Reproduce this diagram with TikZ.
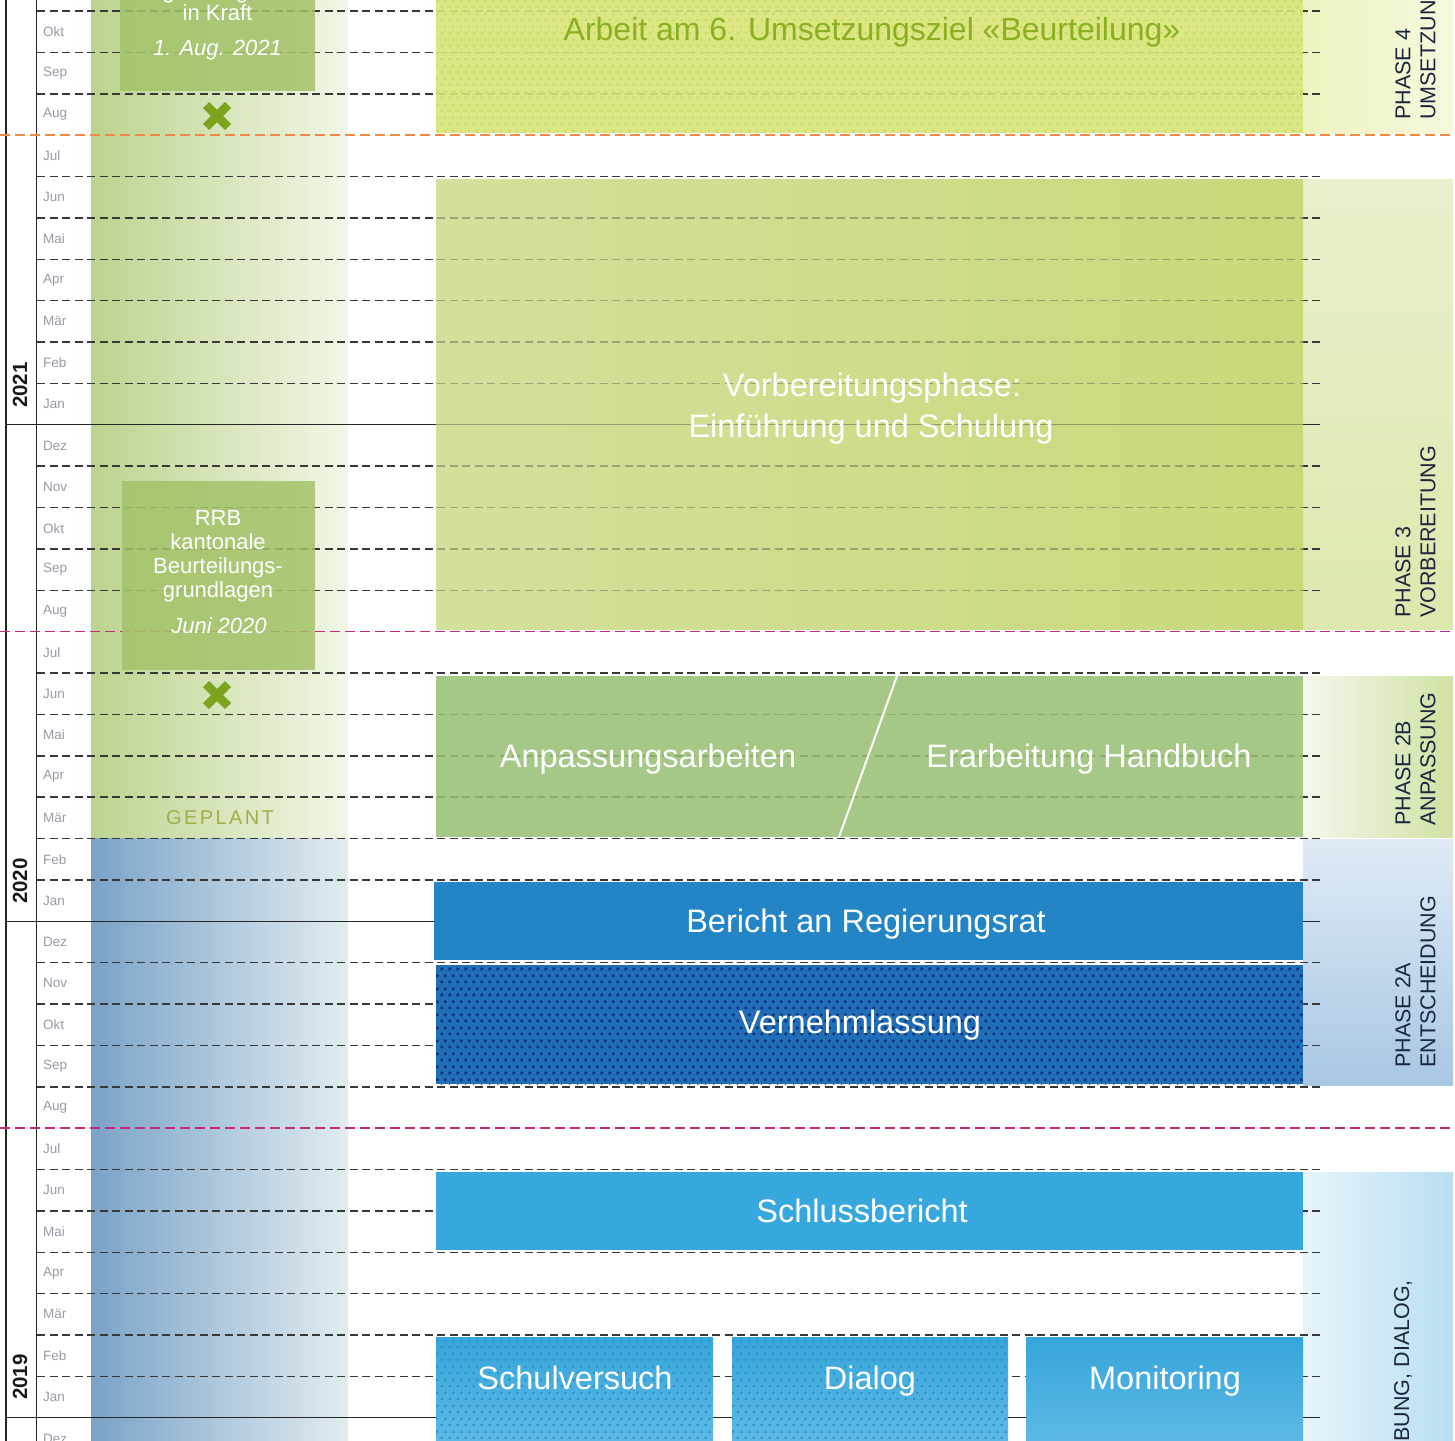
\documentclass[tikz,border=0pt]{standalone}
\usepackage{fontspec}
\setmainfont{Liberation Sans}
\usetikzlibrary{patterns}

\pgfdeclarepatternformonly{diadots}{\pgfpointorigin}{\pgfpoint{8pt}{13pt}}{\pgfpoint{8pt}{13pt}}{%
  \pgfpathcircle{\pgfpoint{2pt}{3.25pt}}{1.4pt}%
  \pgfpathcircle{\pgfpoint{6pt}{9.75pt}}{1.4pt}%
  \pgfusepath{fill}}
\pgfdeclarepatternformonly{bigdots}{\pgfpointorigin}{\pgfpoint{8pt}{13pt}}{\pgfpoint{8pt}{13pt}}{%
  \pgfpathcircle{\pgfpoint{2pt}{3.25pt}}{1.9pt}%
  \pgfpathcircle{\pgfpoint{6pt}{9.75pt}}{1.9pt}%
  \pgfusepath{fill}}

\definecolor{bgL}{HTML}{BCD38E}
\definecolor{bgM}{HTML}{D8E5B6}
\definecolor{bgR}{HTML}{F1F7E7}
\definecolor{bbL}{HTML}{7AA3C8}
\definecolor{bbM}{HTML}{A9C6D8}
\definecolor{bbR}{HTML}{E2ECF0}
\definecolor{smallbox}{HTML}{A3C269}
\definecolor{xgreen}{HTML}{7BA31E}
\definecolor{geplant}{HTML}{A0AE4C}
\definecolor{arbfill}{HTML}{D9E476}
\definecolor{arbdot}{HTML}{C4D456}
\definecolor{arbtext}{HTML}{8AB022}
\definecolor{vorL}{HTML}{D3E09C}
\definecolor{vorR}{HTML}{C7D979}
\definecolor{anpfill}{HTML}{97C074}
\definecolor{bericht}{HTML}{2385C5}
\definecolor{vernfill}{HTML}{1F6EB7}
\definecolor{verndot}{HTML}{0F3078}
\definecolor{schluss}{HTML}{37A8DD}
\definecolor{lowtop}{HTML}{37A5DA}
\definecolor{lowbot}{HTML}{5DB9E5}
\definecolor{lowdot}{HTML}{2A8ECE}
\definecolor{monthgray}{HTML}{9A98A6}
\definecolor{phasetext}{HTML}{1C2640}
\definecolor{orangeline}{HTML}{EE8A46}
\definecolor{magline}{HTML}{C8287C}
\definecolor{pIVa}{HTML}{EDF3C0}
\definecolor{pIVb}{HTML}{F5F9DC}
\definecolor{pIIIa}{HTML}{E8F0CC}
\definecolor{pIIIb}{HTML}{DCE8AE}
\definecolor{pIIBa}{HTML}{F4F8EC}
\definecolor{pIIBb}{HTML}{CFE2A3}
\definecolor{pIIAa}{HTML}{DFEAF5}
\definecolor{pIIAb}{HTML}{A8C7E3}
\definecolor{pIa}{HTML}{E6F4FA}
\definecolor{pIb}{HTML}{B9DEF1}

\tikzset{
  monthline/.style={draw=black!78, line width=1.5pt, dash pattern=on 8pt off 4.5pt},
  yearline/.style={draw=black!85, line width=1.4pt},
  sepline/.style={line width=1.6pt, dash pattern=on 10pt off 5pt},
  monthlbl/.style={anchor=west, inner sep=0, text=monthgray, font=\fontsize{13.5}{16}\selectfont},
  yearlbl/.style={rotate=90, inner sep=0, text=black!90, font=\fontsize{20.5}{24}\selectfont\bfseries},
  boxtxt/.style={inner sep=0, text=white, text height=23.3pt, text depth=0pt, font=\fontsize{32.5}{40}\selectfont},
  smalltxt/.style={inner sep=0, text=white, text height=15.7pt, text depth=0pt, font=\fontsize{22}{24}\selectfont},
  smallit/.style={smalltxt, font=\fontsize{22}{24}\selectfont\itshape},
  phaselbl/.style={rotate=90, anchor=west, inner sep=0, text=phasetext, font=\fontsize{21.5}{25}\selectfont},
  crossmark/.style={draw=xgreen, line width=8.5pt},
}

\begin{document}
\begin{tikzpicture}[x=1pt,y=-1pt]
\useasboundingbox (0,0) rectangle (1455,1440);
\clip (0,0) rectangle (1455,1440);
\fill[white] (0,0) rectangle (1455,1440);

% left "geplant" band
\fill[left color=bgL, middle color=bgM, right color=bgR] (91,-5) rectangle (348,838.5);
\fill[left color=bbL, middle color=bbM, right color=bbR] (91,838.5) rectangle (348,1445);

% right phase panels
\fill[left color=pIVa, right color=pIVb] (1303,-5) rectangle (1453,133);
\fill[top color=pIIIa, bottom color=pIIIb] (1303,179) rectangle (1453,629);
\fill[left color=pIIBa, right color=pIIBb] (1303,676) rectangle (1453,837);
\fill[top color=pIIAa, bottom color=pIIAb] (1303,839) rectangle (1453,1085);
\fill[left color=pIa, right color=pIb] (1303,1172) rectangle (1453,1445);

% vertical year-column lines
\draw[yearline] (6,-5) -- (6,1445);
\draw[yearline] (36.5,-5) -- (36.5,1445);

% month lines
\foreach \i in {0,1,2,4,5,6,7,8,9,11,12,13,14,16,17,18,19,20,21,23,24,25,26,28,29,30,31,32,33}
  \draw[monthline] (37,{11+41.375*\i}) -- (1320,{11+41.375*\i});
% year lines
\foreach \i in {10,22,34}
  \draw[yearline] (6,{11+41.375*\i}) -- (1320,{11+41.375*\i});
% phase separators
\draw[sepline, draw=orangeline] (0,135.1) -- (1455,135.1);
\draw[sepline, draw=magline] (0,631.6) -- (1455,631.6);
\draw[sepline, draw=magline] (0,1128.1) -- (1455,1128.1);

% month labels
\foreach \m [count=\i from 0] in {Okt,Sep,Aug,Jul,Jun,Mai,Apr,Mär,Feb,Jan,Dez,Nov,Okt,Sep,Aug,Jul,Jun,Mai,Apr,Mär,Feb,Jan,Dez,Nov,Okt,Sep,Aug,Jul,Jun,Mai,Apr,Mär,Feb,Jan,Dez}
  \node[monthlbl] (m\i) at (43,{31.7+41.375*\i}) {\m};

% year labels
\node[yearlbl] (y2021) at (20,385) {2021};
\node[yearlbl] (y2020) at (20,881) {2020};
\node[yearlbl] (y2019) at (20,1377) {2019};

% small boxes in band
\fill[smallbox, fill opacity=.85] (120,-5) rectangle (315,91);
\fill[smallbox, fill opacity=.85] (121.5,481) rectangle (315,669.5);
\node[smalltxt] (kraftA) at (217.5,-9.5) {grundlagen};
\node[smalltxt] (kraftB) at (217.5,13) {in Kraft};
\node[smallit]  (kraftC) at (217.5,48) {1. Aug. 2021};
\node[smalltxt] (rrbA) at (218,518) {RRB};
\node[smalltxt] (rrbB) at (218,542) {kantonale};
\node[smalltxt] (rrbC) at (218,566) {Beurteilungs-};
\node[smalltxt] (rrbD) at (218,590) {grundlagen};
\node[smallit]  (rrbE) at (219,626) {Juni 2020};

% crosses
\draw[crossmark] (206,105) -- (228,127) (206,127) -- (228,105);
\draw[crossmark] (206,684) -- (228,706) (206,706) -- (228,684);

\node[inner sep=0, text=geplant, font=\fontsize{20}{24}\selectfont\addfontfeature{LetterSpace=12}] (geplant) at (220,818) {GEPLANT};

% main boxes
\fill[arbfill, fill opacity=.9] (436,-5) rectangle (1303,133);
\fill[pattern=diadots, pattern color=arbdot, fill opacity=.8] (436,-5) rectangle (1303,133);
\node[boxtxt, text=arbtext, font=\fontsize{32}{40}\selectfont] (arbeit) at (872,29) {Arbeit am 6. Umsetzungsziel «Beurteilung»};

\fill[left color=vorL, right color=vorR] (436,179) rectangle (1303,629);
\begin{scope}[opacity=.35]
  \clip (436,179) rectangle (1303,629);
  \foreach \i in {5,6,7,8,9,11,12,13,14}
    \draw[monthline] (37,{11+41.375*\i}) -- (1320,{11+41.375*\i});
  \draw[yearline] (6,{11+41.375*10}) -- (1320,{11+41.375*10});
\end{scope}
\node[boxtxt] (vorA) at (872,385) {Vorbereitungsphase:};
\node[boxtxt] (vorB) at (871,426) {Einführung und Schulung};

\fill[anpfill, fill opacity=.86] (436,676) rectangle (1303,837);
\draw[white, line width=2pt] (897,676) -- (839,837);
\node[boxtxt] (anpA) at (648,756) {Anpassungsarbeiten};
\node[boxtxt] (anpB) at (1089,756) {Erarbeitung Handbuch};

\fill[bericht] (434,882) rectangle (1303,960);
\node[boxtxt] (bericht) at (866,921) {Bericht an Regierungsrat};

\fill[vernfill] (436,965) rectangle (1303,1084);
\fill[pattern=bigdots, pattern color=verndot] (436,965) rectangle (1303,1084);
\node[boxtxt] (vern) at (860,1022) {Vernehmlassung};

\fill[schluss] (436,1172) rectangle (1303,1250);
\node[boxtxt] (schluss) at (862,1211) {Schlussbericht};

\fill[top color=lowtop, bottom color=lowbot] (436,1337) rectangle (713,1445);
\fill[pattern=diadots, pattern color=lowdot] (436,1337) rectangle (713,1445);
\fill[top color=lowtop, bottom color=lowbot] (732,1337) rectangle (1008,1445);
\fill[pattern=diadots, pattern color=lowdot] (732,1337) rectangle (1008,1445);
\fill[top color=lowtop, bottom color=lowbot] (1026,1337) rectangle (1303,1445);
\node[boxtxt] (schulv) at (575,1378) {Schulversuch};
\node[boxtxt] (dialog) at (870,1378) {Dialog};
\node[boxtxt] (monit) at (1165,1378) {Monitoring};

% phase labels
\node[phaselbl] (p4a) at (1403,120) {PHASE 4};
\node[phaselbl] (p4b) at (1428,120) {UMSETZUNG};
\node[phaselbl] (p3a) at (1403,618) {PHASE 3};
\node[phaselbl] (p3b) at (1428,618) {VORBEREITUNG};
\node[phaselbl] (p2ba) at (1403,826) {PHASE 2B};
\node[phaselbl] (p2bb) at (1428,826) {ANPASSUNG};
\node[phaselbl] (p2aa) at (1403,1068) {PHASE 2A};
\node[phaselbl] (p2ab) at (1428,1068) {ENTSCHEIDUNG};
\node[phaselbl, anchor=east] (p1a) at (1403,1280) {ERPROBUNG, DIALOG,};
\end{tikzpicture}
\end{document}
